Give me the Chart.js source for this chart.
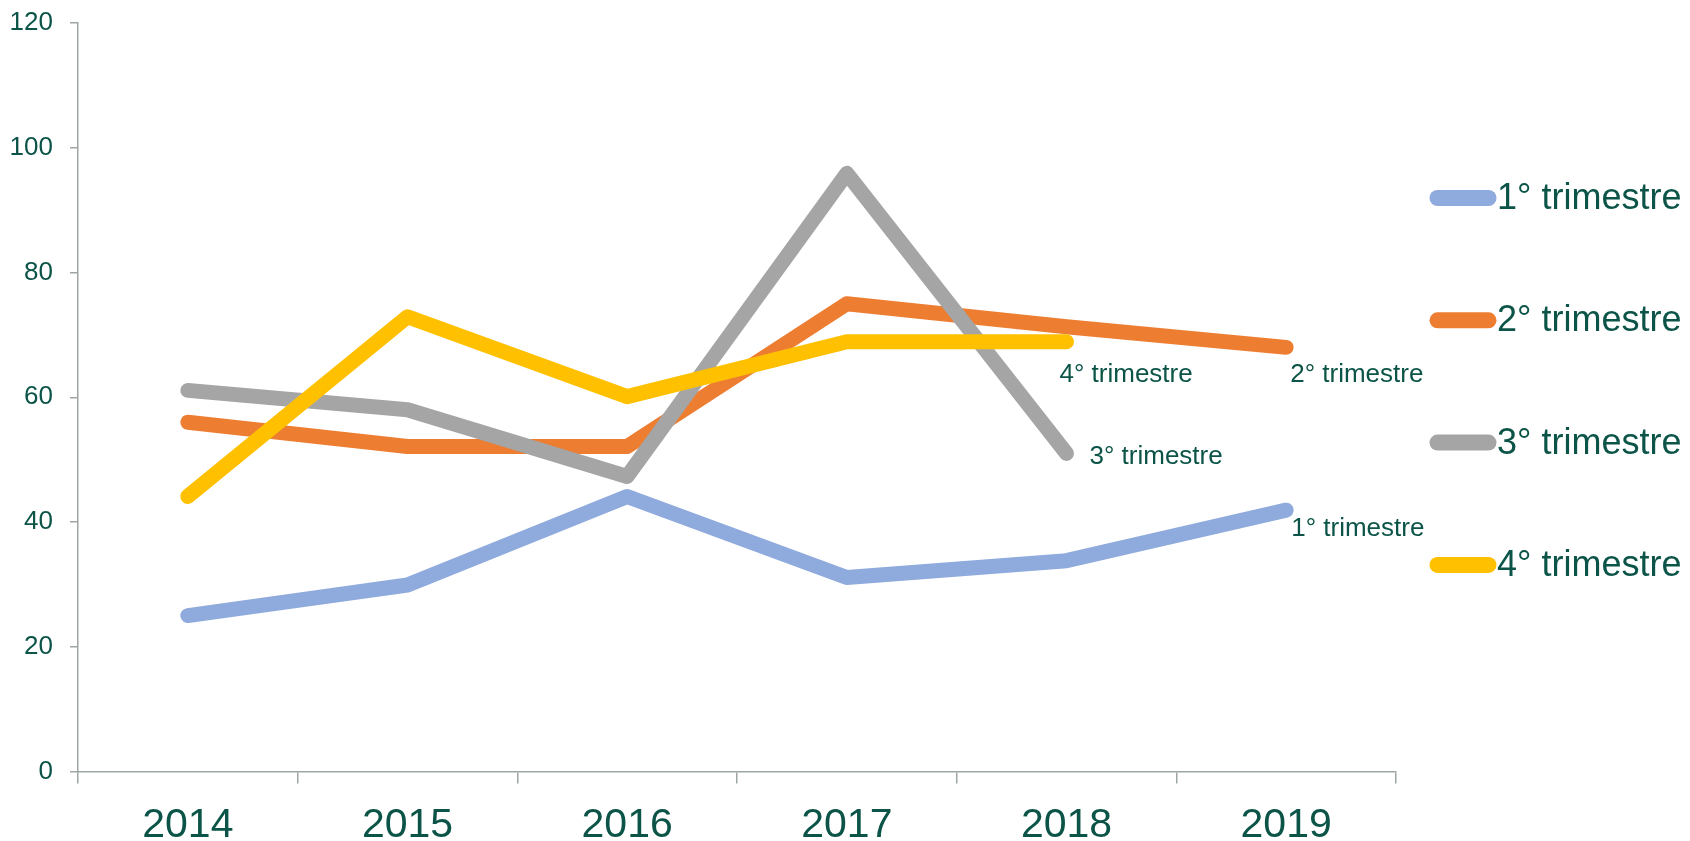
<!DOCTYPE html>
<html>
<head>
<meta charset="utf-8">
<style>
  html, body { margin: 0; padding: 0; background: #ffffff; }
  #wrap { width: 1690px; height: 841px; position: relative; }
</style>
<script src="https://cdn.jsdelivr.net/npm/chart.js@4/dist/chart.umd.min.js"></script>
</head>
<body>
<div id="wrap"><canvas id="c" width="1690" height="841"></canvas></div>
<script>
// ---- data ----
const categories = ['2014', '2015', '2016', '2017', '2018', '2019'];
const seriesNames = ['1° trimestre', '2° trimestre', '3° trimestre', '4° trimestre'];
const q1 = [25.0, 29.9, 44.1, 31.1, 33.8, 41.9];
const q2 = [56.0, 52.1, 52.1, 75.0, 71.3, 68.0];
const q3 = [61.1, 58.0, 47.3, 95.9, 51.0, null];
const q4 = [44.1, 72.9, 60.1, 68.9, 68.9, null];
const yTicks = [0, 20, 40, 60, 80, 100, 120];

// ---- styles ----
const FONT = "'Liberation Sans', Arial, Helvetica, sans-serif";
const TEXT = '#0B5447';
const AXIS = '#9EA7A5';
const colors = ['#8FAADC', '#ED7D31', '#A5A5A5', '#FFC000'];
const labelOffsets = [
  { dx: 5, dy: 19 },
  { dx: 4, dy: 27 },
  { dx: 23, dy: 3 },
  { dx: -7, dy: 33 }
];
const legendStyle = { x0: 1437.5, x1: 1488.5, textX: 1497, top: 198, step: 122.3, size: 36 };

const seriesData = [q1, q2, q3, q4];

const datasets = seriesData.map((d, i) => ({
  label: seriesNames[i],
  data: d,
  borderColor: colors[i],
  backgroundColor: colors[i],
  borderWidth: 15,
  borderCapStyle: 'round',
  borderJoinStyle: 'round',
  pointRadius: 0,
  pointHoverRadius: 0,
  tension: 0,
  fill: false,
  spanGaps: false,
  order: seriesData.length - i
}));

const endLabels = {
  id: 'endLabels',
  afterDatasetsDraw(chart) {
    const ctx = chart.ctx;
    ctx.save();
    ctx.font = '26px ' + FONT;
    ctx.fillStyle = TEXT;
    ctx.textAlign = 'left';
    ctx.textBaseline = 'middle';
    chart.data.datasets.forEach((ds, i) => {
      let last = -1;
      ds.data.forEach((v, j) => { if (v !== null && v !== undefined) last = j; });
      if (last < 0) return;
      const pt = chart.getDatasetMeta(i).data[last];
      const off = labelOffsets[i];
      ctx.fillText(ds.label, pt.x + off.dx, pt.y + off.dy);
    });
    ctx.restore();
  }
};

const sideLegend = {
  id: 'sideLegend',
  afterDraw(chart) {
    const ctx = chart.ctx;
    ctx.save();
    chart.data.datasets.forEach((ds, i) => {
      const y = legendStyle.top + i * legendStyle.step;
      ctx.beginPath();
      ctx.strokeStyle = ds.borderColor;
      ctx.lineWidth = 16;
      ctx.lineCap = 'round';
      ctx.moveTo(legendStyle.x0, y);
      ctx.lineTo(legendStyle.x1, y);
      ctx.stroke();
      ctx.font = legendStyle.size + 'px ' + FONT;
      ctx.fillStyle = TEXT;
      ctx.textAlign = 'left';
      ctx.textBaseline = 'middle';
      ctx.fillText(ds.label, legendStyle.textX, y + 1);
    });
    ctx.restore();
  }
};

new Chart(document.getElementById('c'), {
  type: 'line',
  data: { labels: categories, datasets: datasets },
  options: {
    responsive: false,
    animation: false,
    events: [],
    layout: { padding: { top: 23, right: 294, left: 0, bottom: 0 } },
    plugins: {
      legend: { display: false },
      tooltip: { enabled: false },
      title: { display: false }
    },
    scales: {
      x: {
        offset: true,
        grid: {
          offset: true,
          drawOnChartArea: false,
          drawTicks: true,
          tickLength: 12,
          color: AXIS,
          lineWidth: 1.5
        },
        border: { display: true, color: AXIS, width: 1.5 },
        ticks: {
          color: TEXT,
          font: { family: FONT, size: 41 },
          padding: 18,
          maxRotation: 0,
          autoSkip: false
        },
        afterFit(scale) { scale.height = 69.5; scale.paddingLeft = 0; scale.paddingRight = 0; }
      },
      y: {
        min: 0,
        max: 120,
        afterBuildTicks(scale) { scale.ticks = yTicks.map(v => ({ value: v })); },
        grid: {
          drawOnChartArea: false,
          drawTicks: true,
          tickLength: 8,
          color: AXIS,
          lineWidth: 1.5
        },
        border: { display: true, color: AXIS, width: 1.5 },
        ticks: {
          color: TEXT,
          font: { family: FONT, size: 26 },
          padding: 17
        },
        afterFit(scale) { scale.width = 78; scale.paddingTop = 0; scale.paddingBottom = 0; }
      }
    }
  },
  plugins: [endLabels, sideLegend]
});
</script>
</body>
</html>
